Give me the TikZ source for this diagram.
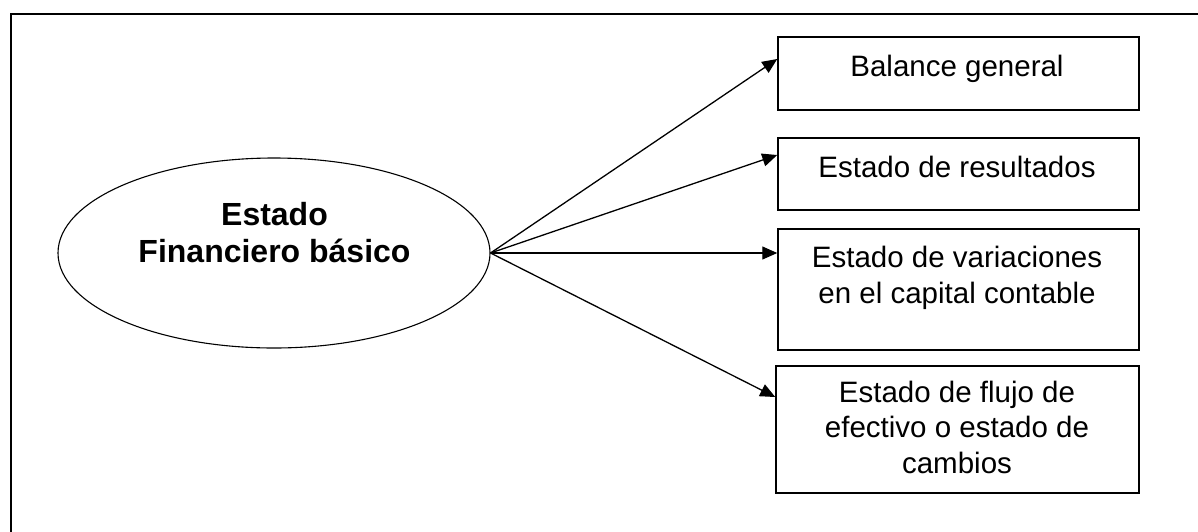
\documentclass[tikz,border=0pt]{standalone}
\usepackage{fontspec}
\setmainfont{Liberation Sans}
\usetikzlibrary{arrows.meta,shapes.geometric}
\begin{document}
\begin{tikzpicture}[x=1pt,y=-1pt,
  box/.style={draw,line width=1.5pt,minimum width=361pt,inner sep=0pt},
  txt/.style={inner sep=0pt,align=center,font=\fontsize{29.5}{35.5}\selectfont,anchor=base},
  conn/.style={line width=1.3pt,-{Triangle[length=15pt,width=13pt]}},
  frame/.style={line width=1.7pt}]
\useasboundingbox (0,0) rectangle (1198,531);
% frame
\coordinate (fbl) at (11,540);
\coordinate (ftl) at (11,14);
\coordinate (ftr) at (1210,14);
\draw[frame] (fbl) -- (ftl) -- (ftr);
% ellipse
\node[ellipse,draw,line width=1.1pt,minimum width=432pt,minimum height=190pt,inner sep=0pt] (e) at (274,253) {};
\node[inner sep=0pt,align=center,anchor=base,font=\fontsize{32}{37}\selectfont\bfseries] (et) at (274.5,262) {Estado\\Financiero básico};
% boxes
\node[box,minimum height=73pt] (b1) at (958.5,73.5) {};
\node[box,minimum height=72pt] (b2) at (958.5,174) {};
\node[box,minimum height=121pt] (b3) at (958.5,289.5) {};
\node[box,minimum width=363pt,minimum height=127pt] (b4) at (957.5,429.5) {};
\node[txt] (t1) at (957,76.5) {Balance general};
\node[txt] (t2) at (957,177) {Estado de resultados};
\node[txt] (t3) at (957,303) {Estado de variaciones\\en el capital contable};
\node[txt] (t4) at (957,473) {Estado de flujo de\\efectivo o estado de\\cambios};
% connectors
\draw[conn] (e.east) -- ([yshift=14.5pt]b1.west);
\draw[conn] (e.east) -- ([yshift=19pt]b2.west);
\draw[conn] (e.east) -- ([yshift=36.5pt]b3.west);
\draw[conn] (e.east) -- ([yshift=32.5pt]b4.west);
\end{tikzpicture}
\end{document}
